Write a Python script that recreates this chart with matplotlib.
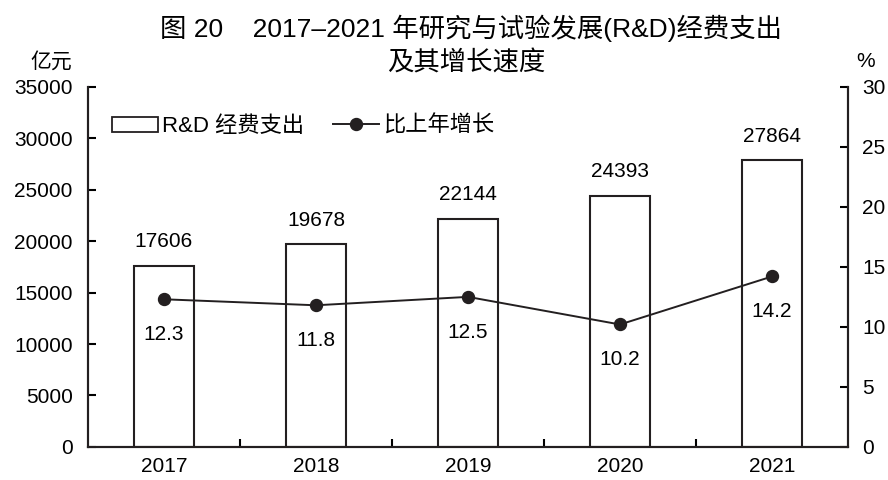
import numpy as np
import matplotlib.pyplot as plt
from matplotlib.patches import Patch
from matplotlib.lines import Line2D

plt.rcParams['font.family'] = ['Liberation Sans', 'Noto Sans CJK SC', 'DejaVu Sans']

years = ['2017', '2018', '2019', '2020', '2021']
spending = [17606, 19678, 22144, 24393, 27864]
growth = [12.3, 11.8, 12.5, 10.2, 14.2]

ink = '#231f20'

fig = plt.figure(figsize=(8.88, 4.8), dpi=100)
ax = fig.add_axes([0.099, 0.069, 0.856, 0.75])
ax2 = ax.twinx()

x = np.arange(len(years))
ax.bar(x, spending, width=0.4, color='white', edgecolor=ink, linewidth=1.5, zorder=2)
for xi, v in zip(x, spending):
    ax.text(xi, v + 2350, str(v), ha='center', va='center', fontsize=15)

ax2.plot(x, growth, color=ink, linewidth=1.4, marker='o', markersize=8.6, zorder=3)
for xi, g in zip(x, growth):
    ax2.text(xi, g - 2.95, f'{g:.1f}', ha='center', va='center', fontsize=15)

ax.set_xlim(-0.5, len(years) - 0.5)
ax.set_ylim(0, 35000)
ax2.set_ylim(0, 30)
ax.set_yticks(range(0, 35001, 5000))
ax2.set_yticks(range(0, 31, 5))
ax.set_xticks(x)
ax.set_xticklabels(years)
ax.set_xticks(np.arange(0.5, len(years) - 1, 1), minor=True)
ax.tick_params(axis='x', which='major', length=0, labelsize=15, pad=7)
ax.tick_params(axis='x', which='minor', direction='in', length=6, width=1.5)
ax.tick_params(axis='y', direction='in', length=6, width=1.5, labelsize=15, pad=11)
ax2.tick_params(axis='y', direction='in', length=6, width=1.5, labelsize=15, pad=10)

for a in (ax, ax2):
    a.spines['top'].set_visible(False)
    for s in ('left', 'right', 'bottom'):
        a.spines[s].set_linewidth(1.5)
        a.spines[s].set_color(ink)

fig.text(0.53, 0.94, '图 20    2017–2021 年研究与试验发展(R&D)经费支出', ha='center', va='center', fontsize=19)
fig.text(0.525, 0.868, '及其增长速度', ha='center', va='center', fontsize=19)
fig.text(0.058, 0.872, '亿元', ha='center', va='center', fontsize=15)
fig.text(0.975, 0.872, '%', ha='center', va='center', fontsize=15)

handles = [Patch(facecolor='white', edgecolor=ink, linewidth=1.3),
           Line2D([0], [0], color=ink, linewidth=1.4, marker='o', markersize=8.6)]
ax.legend(handles, ['R&D 经费支出', '比上年增长'], loc='upper left', ncol=2, frameon=False,
          fontsize=16, bbox_to_anchor=(0.006, 0.975), handlelength=2.05, handleheight=0.68,
          columnspacing=1.3, handletextpad=0.18)

fig.savefig('out.png', dpi=100)
